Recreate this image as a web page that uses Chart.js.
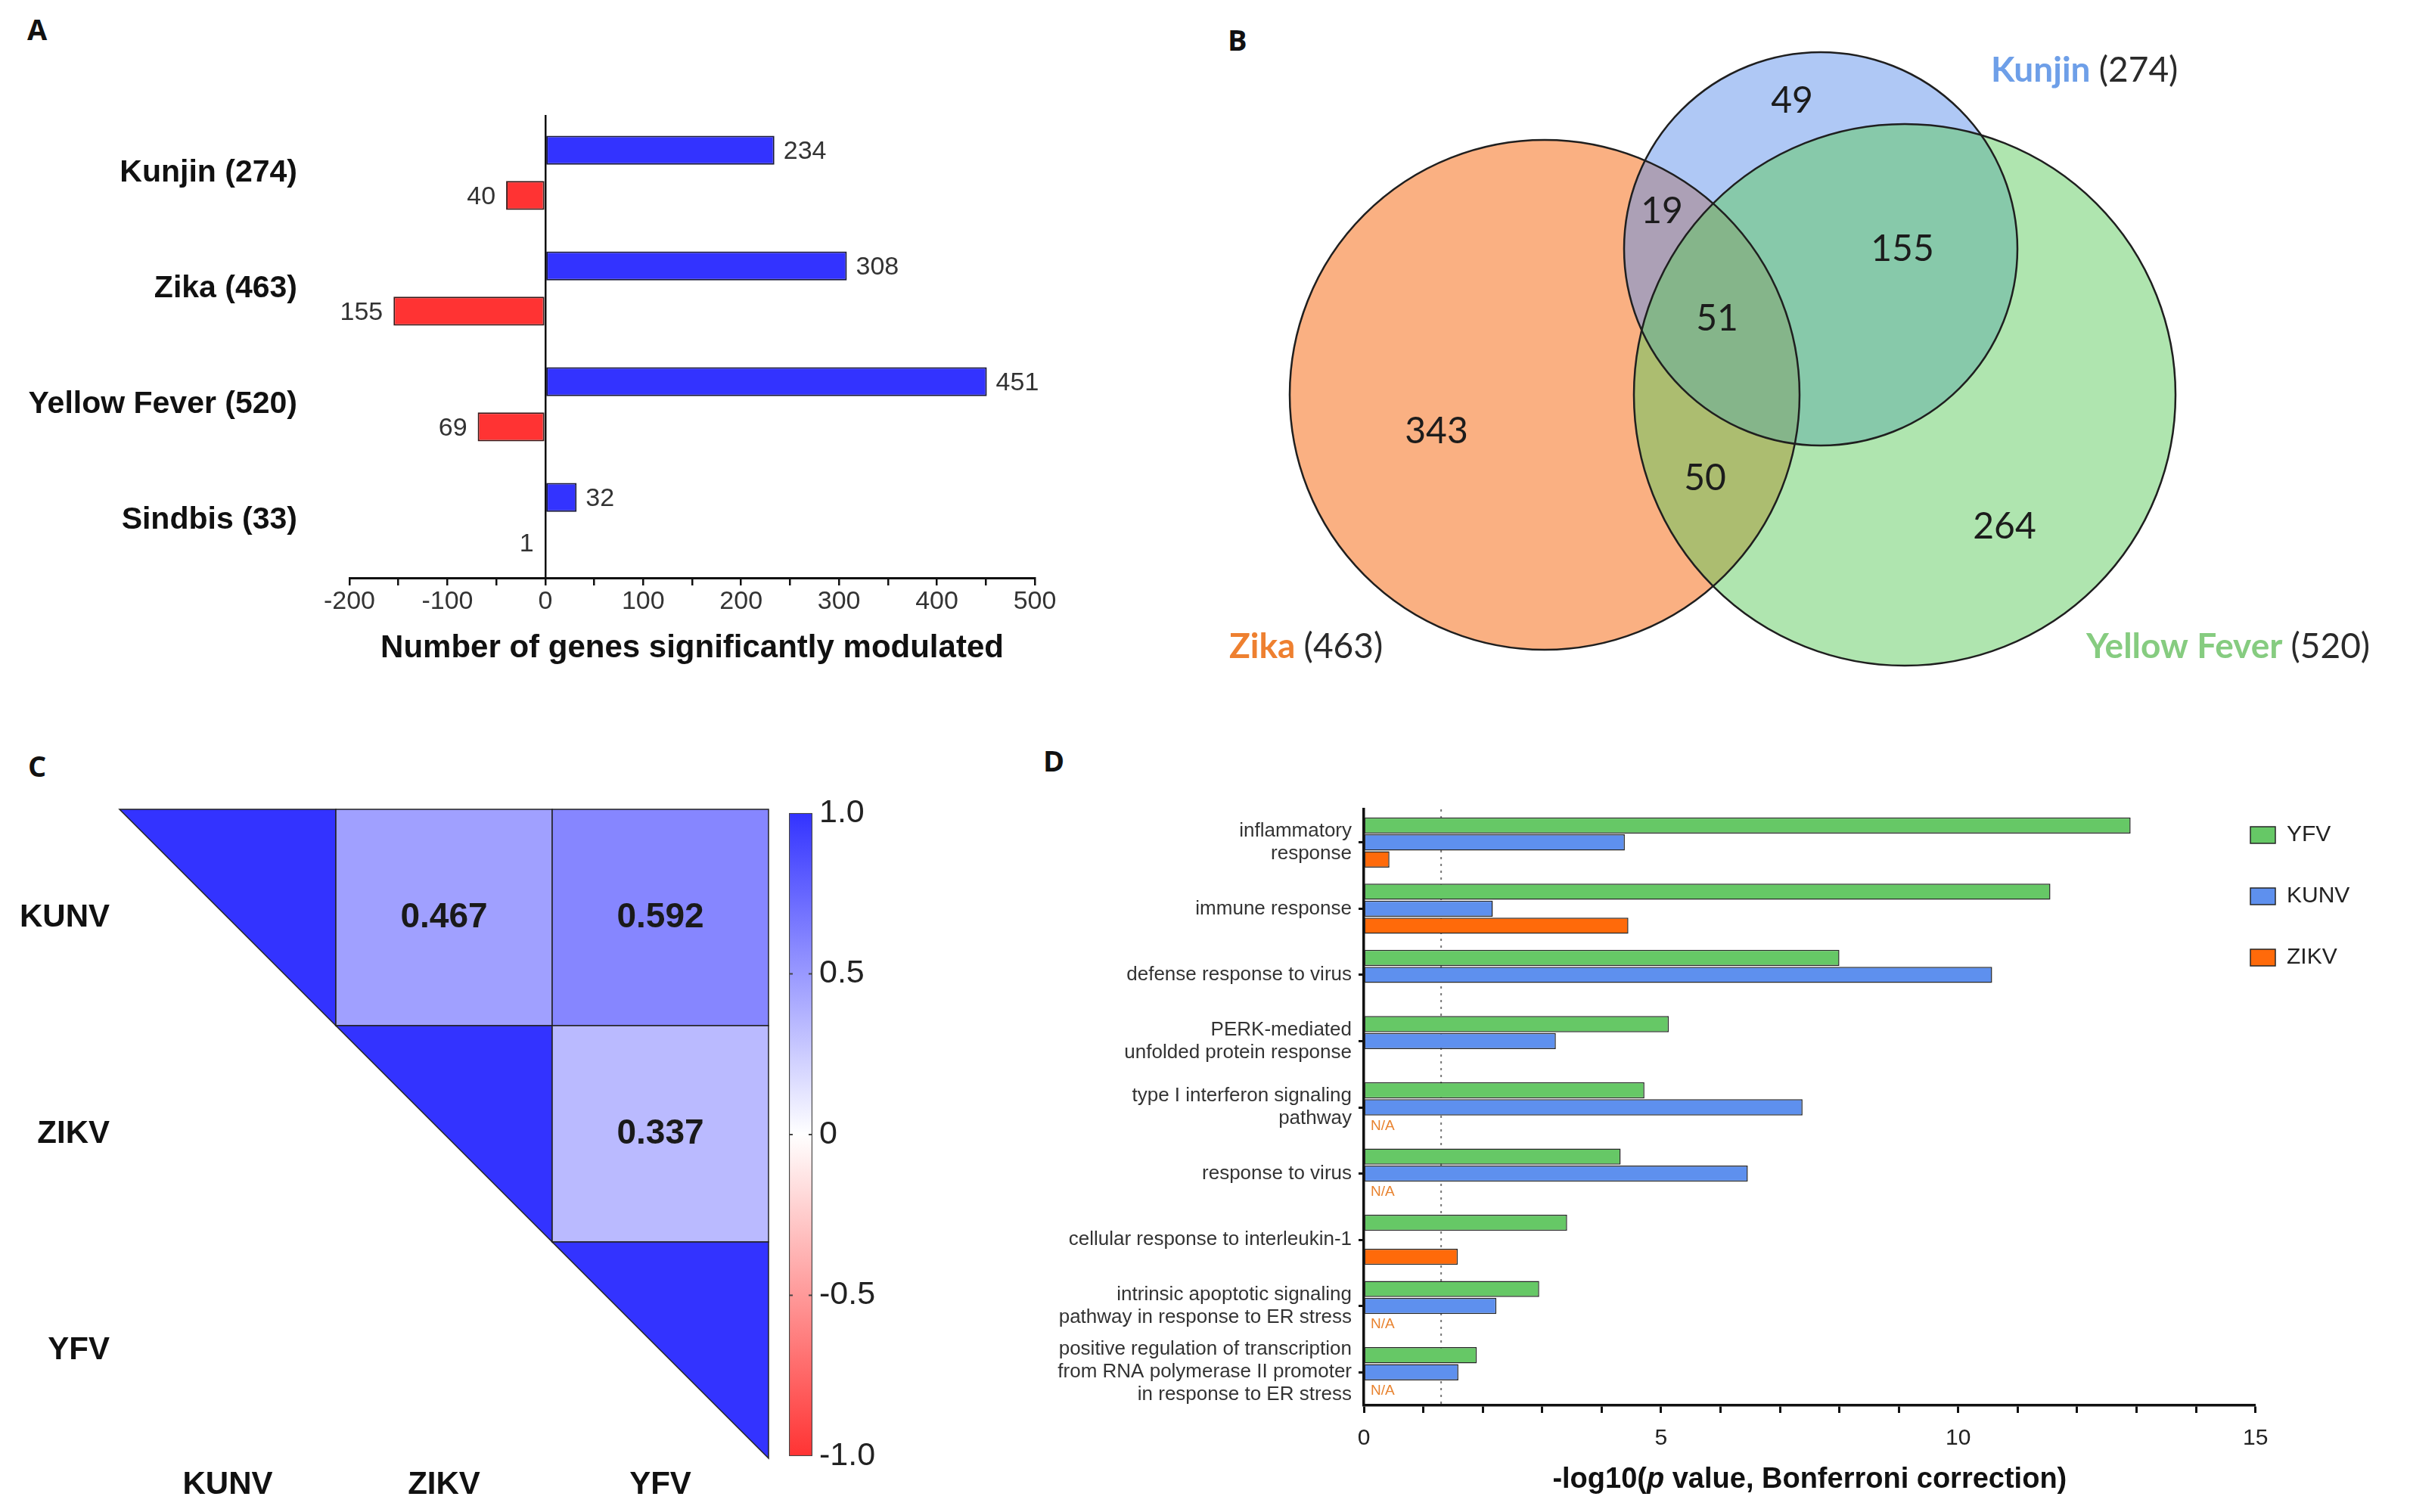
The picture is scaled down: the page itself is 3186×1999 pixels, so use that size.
<!DOCTYPE html>
<html>
<head>
<meta charset="utf-8">
<script src="https://cdn.jsdelivr.net/npm/chart.js@4.4.1/dist/chart.umd.min.js"></script>
<style>
  body { margin: 0; background: #fff; width: 3186px; height: 1999px; position: relative; overflow: hidden; }
  canvas { position: absolute; }
  .tag { position: absolute; font: bold 38px "Open Sans", sans-serif; line-height: 38px; color: #111; }
</style>
</head>
<body>
<div class="tag" style="left:36px;top:19px">A</div>
<div class="tag" style="left:1623px;top:33px">B</div>
<div class="tag" style="left:37px;top:993px">C</div>
<div class="tag" style="left:1379px;top:986px">D</div>

<canvas id="chartA" width="1500" height="900" style="left:0;top:0"></canvas>
<canvas id="chartB" width="1636" height="960" style="left:1550px;top:0"></canvas>
<canvas id="chartC" width="1300" height="1049" style="left:0;top:950px"></canvas>
<canvas id="chartScale" width="170" height="920" style="left:1030px;top:1040px"></canvas>
<canvas id="chartD" width="1836" height="1049" style="left:1350px;top:950px"></canvas>

<script>
// ---- A: genes modulated per virus
const virusLabels = ['Kunjin (274)', 'Zika (463)', 'Yellow Fever (520)', 'Sindbis (33)'];
const upGenes = [234, 308, 451, 32];
const downGenes = [-40, -155, -69, -1];

// ---- B: Venn counts
const vennSets = ['Kunjin', 'Zika', 'Yellow Fever'];
const vennTotals = [274, 463, 520];
const vennCounts = [49, 19, 155, 51, 343, 50, 264]; // K only, K∩Z, K∩Y, all, Z only, Z∩Y, Y only

// ---- C: correlation
const corrLabels = ['KUNV', 'ZIKV', 'YFV'];
const corrMatrix = [
  [1, 0.467, 0.592],
  [0.467, 1, 0.337],
  [0.592, 0.337, 1]
];

// ---- D: GO enrichment
const goTerms = [
  ['inflammatory', 'response'],
  'immune response',
  'defense response to virus',
  ['PERK-mediated', 'unfolded protein response'],
  ['type I interferon signaling', 'pathway'],
  'response to virus',
  'cellular response to interleukin-1',
  ['intrinsic apoptotic signaling', 'pathway in response to ER stress'],
  ['positive regulation of transcription', 'from RNA polymerase II promoter', 'in response to ER stress']
];
const yfvScores = [12.9, 11.55, 8.0, 5.13, 4.72, 4.32, 3.42, 2.95, 1.9];
const kunvScores = [4.39, 2.17, 10.57, 3.23, 7.38, 6.46, null, 2.23, 1.59];
const zikvScores = [0.43, 4.45, null, null, null, null, 1.58, null, null];
const zikvNotAvailable = [false, false, false, false, true, true, false, true, true];
const pThreshold = 1.3;

const ARIAL = '"Liberation Sans", Arial, sans-serif';
Chart.defaults.font.family = ARIAL;
Chart.defaults.animation = false;
Chart.defaults.responsive = false;
Chart.defaults.devicePixelRatio = 1;
Chart.defaults.events = [];
Chart.defaults.plugins.tooltip.enabled = false;

// ---------------- A ----------------
const valueLabels = {
  id: 'valueLabels',
  afterDatasetsDraw(chart) {
    const ctx = chart.ctx;
    ctx.save();
    ctx.font = '34px ' + ARIAL;
    ctx.fillStyle = '#333';
    ctx.textBaseline = 'middle';
    chart.data.datasets.forEach((ds, di) => {
      chart.getDatasetMeta(di).data.forEach((bar, i) => {
        const v = ds.data[i];
        if (v >= 0) {
          ctx.textAlign = 'left';
          ctx.fillText(String(Math.abs(v)), bar.x + 12, bar.y + 2);
        } else {
          ctx.textAlign = 'right';
          ctx.fillText(String(Math.abs(v)), bar.x - 14, bar.y + 2);
        }
      });
    });
    ctx.restore();
  }
};

new Chart(document.getElementById('chartA'), {
  type: 'bar',
  data: {
    labels: virusLabels,
    datasets: [
      { data: upGenes, backgroundColor: '#3333FF', borderColor: '#1a1a3a', borderWidth: 2, borderSkipped: false,
        categoryPercentage: 0.78, barPercentage: 0.64 },
      { data: downGenes, backgroundColor: '#FF3333', borderColor: '#3a1a1a', borderWidth: 2, borderSkipped: false,
        categoryPercentage: 0.78, barPercentage: 0.64 }
    ]
  },
  options: {
    indexAxis: 'y',
    layout: { padding: { top: 152, right: 132, left: 0, bottom: 0 } },
    plugins: { legend: { display: false } },
    scales: {
      x: {
        min: -200, max: 500,
        ticks: { stepSize: 50, autoSkip: false, maxRotation: 0, minRotation: 0, padding: 1, color: '#333', font: { size: 34 },
          callback: v => (v % 100 === 0 ? v : '') },
        grid: { color: c => (c.tick && c.tick.value === 0 ? '#111' : 'rgba(0,0,0,0)'), lineWidth: 2.5,
          tickColor: '#111', tickWidth: 2.5, tickLength: 10 },
        border: { color: '#111', width: 3 },
        title: { display: true, text: 'Number of genes significantly modulated', color: '#111',
          font: { size: 42, weight: 'bold' }, padding: { top: 0, bottom: 17 } },
        afterFit: s => { s.height = 136; }
      },
      y: {
        ticks: { color: '#111', font: { size: 41, weight: 'bold' }, padding: 69, autoSkip: false },
        grid: { display: false, drawTicks: false },
        border: { display: false },
        afterFit: s => { s.width = 462; }
      }
    }
  },
  plugins: [valueLabels]
});

// ---------------- B ----------------
// circle layout in panel units (1 unit = 1 px): Kunjin, Zika, Yellow Fever
const vennCircles = [
  { x: 857, y: 329, r: 260 },
  { x: 492, y: 522, r: 337 },
  { x: 968, y: 522, r: 358 }
];
const vennFill = ['rgba(95,145,235,0.5)', 'rgba(246,98,5,0.5)', 'rgba(95,203,95,0.5)'];
const vennNameColor = ['#6E9FE8', '#EE8030', '#86CC80'];
const vennCountSpots = [[819, 134], [647, 280], [965, 330], [720, 422], [349, 571], [704, 633], [1100, 697]];
const vennNameSpots = [[1082, 108], [75, 870], [1208, 870]];

const vennText = {
  id: 'vennText',
  afterDatasetsDraw(chart) {
    const { ctx, scales: { x, y } } = chart;
    ctx.save();
    ctx.fillStyle = '#1c1c1c';
    ctx.font = '48px Lato, "Open Sans", sans-serif';
    ctx.textAlign = 'center';
    ctx.textBaseline = 'middle';
    vennCounts.forEach((c, i) => {
      ctx.fillText(String(c), x.getPixelForValue(vennCountSpots[i][0]), y.getPixelForValue(vennCountSpots[i][1]));
    });
    ctx.textAlign = 'left';
    ctx.textBaseline = 'alphabetic';
    vennSets.forEach((name, i) => {
      const px = x.getPixelForValue(vennNameSpots[i][0]);
      const py = y.getPixelForValue(vennNameSpots[i][1]);
      ctx.font = 'bold 46px Lato, "Open Sans", sans-serif';
      ctx.fillStyle = vennNameColor[i];
      ctx.fillText(name, px, py);
      const w = ctx.measureText(name + ' ').width;
      ctx.font = '46px Lato, "Open Sans", sans-serif';
      ctx.fillStyle = '#2a2a2a';
      ctx.fillText('(' + vennTotals[i] + ')', px + w, py);
    });
    ctx.restore();
  }
};

// fills are drawn in order Zika, Kunjin, Yellow Fever; outlines on top
const fillOrder = [1, 0, 2];
new Chart(document.getElementById('chartB'), {
  type: 'bubble',
  data: {
    datasets: [
      { data: fillOrder.map(k => vennCircles[k]), backgroundColor: 'rgba(0,0,0,0)', borderColor: '#1f1f1f', borderWidth: 2.5, clip: false },
      { data: fillOrder.map(k => vennCircles[k]), backgroundColor: fillOrder.map(k => vennFill[k]), borderWidth: 0, clip: false }
    ]
  },
  options: {
    layout: { padding: 0, autoPadding: false },
    plugins: { legend: { display: false } },
    scales: {
      x: { type: 'linear', min: 0, max: 1636, display: false },
      y: { type: 'linear', min: 0, max: 960, reverse: true, display: false }
    }
  },
  plugins: [vennText]
});

// ---------------- C ----------------
function corrColor(v) {
  const t = Math.min(1, Math.abs(v));
  const c = Math.round(255 - t * 204);
  return v >= 0 ? `rgb(${c},${c},255)` : `rgb(255,${c},${c})`;
}

const cells = [];
corrMatrix.forEach((row, i) => row.forEach((v, j) => {
  if (j >= i) cells.push({ x: corrLabels[j], y: corrLabels[i], v: v, diag: i === j });
}));

const matrixCells = {
  id: 'matrixCells',
  afterDatasetsDraw(chart) {
    const { ctx, chartArea } = chart;
    const w = chartArea.width / corrLabels.length;
    const h = chartArea.height / corrLabels.length;
    const pts = chart.getDatasetMeta(0).data;
    ctx.save();
    ctx.lineWidth = 1.5;
    ctx.strokeStyle = '#222';
    pts.forEach((p, k) => {
      const cell = cells[k];
      const l = p.x - w / 2, t = p.y - h / 2;
      ctx.beginPath();
      if (cell.diag) {
        ctx.moveTo(l, t);
        ctx.lineTo(l + w, t);
        ctx.lineTo(l + w, t + h);
        ctx.closePath();
      } else {
        ctx.rect(l, t, w, h);
      }
      ctx.fillStyle = corrColor(cell.v);
      ctx.fill();
      ctx.stroke();
    });
    ctx.fillStyle = '#1a1a1a';
    ctx.font = 'bold 46px ' + ARIAL;
    ctx.textAlign = 'center';
    ctx.textBaseline = 'middle';
    pts.forEach((p, k) => {
      if (!cells[k].diag) ctx.fillText(cells[k].v.toFixed(3), p.x, p.y);
    });
    ctx.restore();
  }
};

new Chart(document.getElementById('chartC'), {
  type: 'scatter',
  data: { datasets: [{ data: cells, pointRadius: 0 }] },
  options: {
    layout: { padding: { top: 120, right: 284, left: 0, bottom: 0 }, autoPadding: false },
    plugins: { legend: { display: false } },
    scales: {
      x: { type: 'category', labels: corrLabels, offset: true,
        ticks: { color: '#111', font: { size: 42, weight: 'bold' }, padding: 10, maxRotation: 0 },
        grid: { display: false, drawTicks: false }, border: { display: false },
        afterFit: s => { s.height = 71; } },
      y: { type: 'category', labels: corrLabels, offset: true,
        ticks: { color: '#111', font: { size: 42, weight: 'bold' }, padding: 13 },
        grid: { display: false, drawTicks: false }, border: { display: false },
        afterFit: s => { s.width = 158; } }
    }
  },
  plugins: [matrixCells]
});

// colour scale bar
const scaleTicks = [-1, -0.5, 0, 0.5, 1];
const scaleMarks = {
  id: 'scaleMarks',
  afterDatasetsDraw(chart) {
    const { ctx, chartArea, scales: { y } } = chart;
    ctx.save();
    ctx.strokeStyle = '#444';
    ctx.lineWidth = 2;
    scaleTicks.slice(1, -1).forEach(v => {
      const py = y.getPixelForValue(v);
      ctx.beginPath();
      ctx.moveTo(chartArea.left, py); ctx.lineTo(chartArea.left + 5, py);
      ctx.moveTo(chartArea.right - 5, py); ctx.lineTo(chartArea.right, py);
      ctx.stroke();
    });
    ctx.restore();
  }
};

new Chart(document.getElementById('chartScale'), {
  type: 'bar',
  data: {
    labels: ['r'],
    datasets: [{
      data: [[-1, 1]],
      categoryPercentage: 1, barPercentage: 1,
      borderColor: '#444', borderWidth: 1.5, borderSkipped: false,
      backgroundColor: c => {
        const { chart } = c;
        const area = chart.chartArea;
        if (!area) return '#fff';
        const ys = chart.scales.y;
        const g = chart.ctx.createLinearGradient(0, ys.getPixelForValue(-1), 0, ys.getPixelForValue(1));
        scaleTicks.forEach(v => g.addColorStop((v + 1) / 2, corrColor(v)));
        return g;
      }
    }]
  },
  options: {
    layout: { padding: { top: 30, bottom: 32, left: 13, right: 0 } },
    plugins: { legend: { display: false } },
    scales: {
      x: { display: false },
      y: { position: 'right', min: -1, max: 1,
        ticks: { stepSize: 0.5, padding: 9, color: '#222', font: { size: 43 },
          callback: v => (v === 0 ? '0' : v.toFixed(1)) },
        grid: { display: false, drawTicks: false }, border: { display: false },
        afterFit: s => { s.width = 126; } }
    }
  },
  plugins: [scaleMarks]
});

// ---------------- D ----------------
const goExtras = {
  id: 'goExtras',
  beforeDatasetsDraw(chart) {
    const { ctx, chartArea, scales: { x } } = chart;
    const px = x.getPixelForValue(pThreshold);
    ctx.save();
    ctx.strokeStyle = '#777';
    ctx.lineWidth = 2;
    ctx.setLineDash([3, 6]);
    ctx.beginPath();
    ctx.moveTo(px, chartArea.top);
    ctx.lineTo(px, chartArea.bottom);
    ctx.stroke();
    ctx.restore();
  },
  afterDatasetsDraw(chart) {
    const { ctx, chartArea, scales: { x } } = chart;
    ctx.save();
    ctx.fillStyle = '#E8822E';
    ctx.font = '19px ' + ARIAL;
    ctx.textAlign = 'left';
    ctx.textBaseline = 'middle';
    chart.getDatasetMeta(2).data.forEach((bar, i) => {
      if (zikvNotAvailable[i]) ctx.fillText('N/A', x.getPixelForValue(0) + 9, bar.y + 2);
    });
    // axis title with italic p
    const parts = [['-log10(', 'bold'], ['p', 'italic bold'], [' value, Bonferroni correction)', 'bold']];
    let total = 0;
    parts.forEach(p => { ctx.font = p[1] + ' 38px ' + ARIAL; total += ctx.measureText(p[0]).width; });
    let cx = (chartArea.left + chartArea.right) / 2 - total / 2;
    ctx.fillStyle = '#111';
    ctx.textBaseline = 'middle';
    parts.forEach(p => {
      ctx.font = p[1] + ' 38px ' + ARIAL;
      ctx.fillText(p[0], cx, 1007);
      cx += ctx.measureText(p[0]).width;
    });
    ctx.restore();
  },
  afterLayout(chart) {
    // legend sits just right of the plot, partly over the last tick
    chart.legend.left = 1574;
    chart.legend.top = 88;
  }
};

const barCommon = { borderColor: '#262626', borderWidth: 1.5, borderSkipped: false, categoryPercentage: 0.77, barPercentage: 0.95 };
new Chart(document.getElementById('chartD'), {
  type: 'bar',
  data: {
    labels: goTerms,
    datasets: [
      Object.assign({ label: 'YFV', data: yfvScores, backgroundColor: '#66C866' }, barCommon),
      Object.assign({ label: 'KUNV', data: kunvScores, backgroundColor: '#5E90EE' }, barCommon),
      Object.assign({ label: 'ZIKV', data: zikvScores, backgroundColor: '#FF6A0A' }, barCommon)
    ]
  },
  options: {
    indexAxis: 'y',
    layout: { padding: { top: 120, right: 12, left: 0, bottom: 0 } },
    plugins: {
      legend: { display: true, position: 'right', align: 'start',
        labels: { boxWidth: 33, boxHeight: 22, padding: 51, color: '#222', font: { size: 30 } } }
    },
    scales: {
      x: { min: 0, max: 15,
        ticks: { stepSize: 1, autoSkip: false, maxRotation: 0, minRotation: 0, padding: 16, color: '#222', font: { size: 30 },
          callback: v => (v % 5 === 0 ? v : '') },
        grid: { drawOnChartArea: false, tickLength: 10, tickWidth: 3, tickColor: '#111' },
        border: { color: '#111', width: 3.5 },
        afterFit: s => { s.height = 141; } },
      y: {
        ticks: { color: '#333', font: { size: 26, lineHeight: 1.15 }, padding: 9, autoSkip: false },
        grid: { drawOnChartArea: false, offset: false, tickLength: 7, tickWidth: 3, tickColor: '#111' },
        border: { color: '#111', width: 3.5 },
        afterFit: s => { s.width = 453; } }
    }
  },
  plugins: [goExtras]
});
</script>
</body>
</html>
